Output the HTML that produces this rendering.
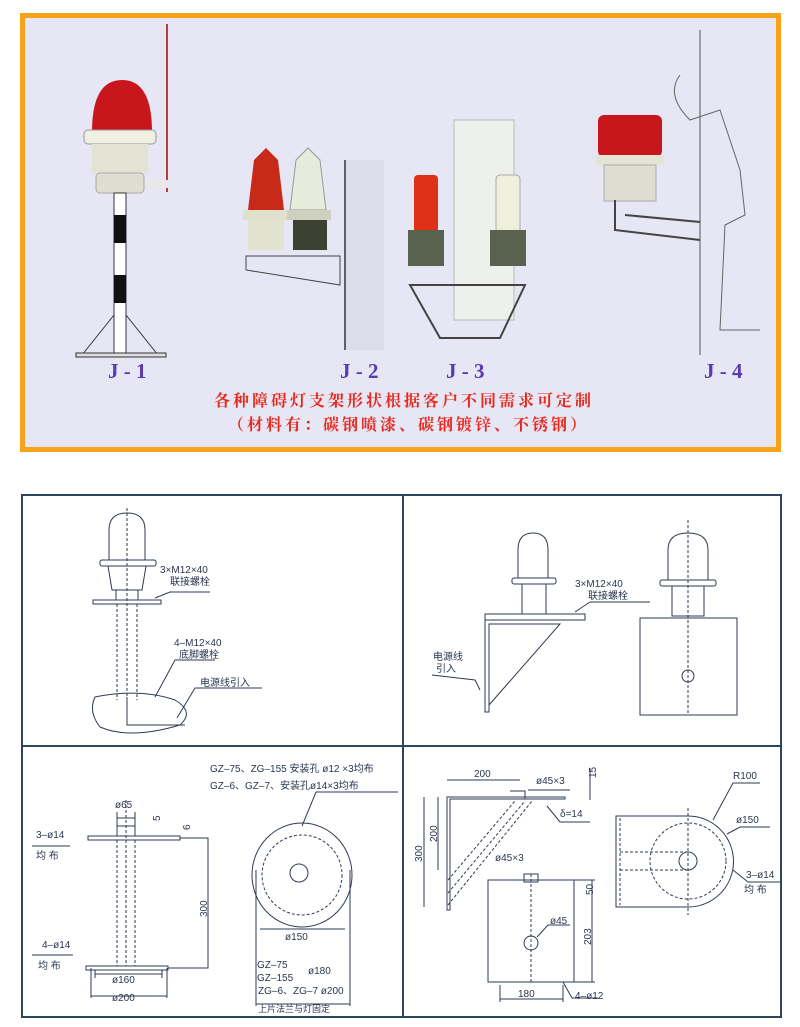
<!DOCTYPE html>
<html><head><meta charset="utf-8"><style>
html,body{margin:0;padding:0;background:#fff}
svg{display:block}
text{font-family:"Liberation Sans","Noto Sans CJK SC",sans-serif;fill:#2a3550}
.jl{font-family:"Liberation Serif",serif;font-size:21px;font-weight:bold;fill:#5a3ab0}
.cn{font-family:"Liberation Serif","Noto Serif CJK SC",serif;font-size:16px;font-weight:bold;fill:#e8281c;letter-spacing:3px}
</style></head><body>
<svg width="800" height="1027" viewBox="0 0 800 1027" xmlns="http://www.w3.org/2000/svg">
<!-- TOP PANEL -->
<rect x="22.5" y="15.5" width="756" height="434" fill="#e6e6f5" stroke="#f7a21b" stroke-width="5"/>
<!-- J-1 -->
<line x1="167" y1="24" x2="167" y2="192" stroke="#b04040" stroke-width="2"/>
<rect x="140" y="180" width="28" height="8" fill="#e8e8e8"/>
<path d="M92 132 Q92 80 122 80 Q152 80 152 132 Z" fill="#c8171c"/>
<rect x="84" y="130" width="72" height="14" rx="4" fill="#efefe2" stroke="#999"/>
<rect x="92" y="144" width="56" height="30" fill="#e3e3d3"/>
<rect x="96" y="173" width="48" height="20" rx="4" fill="#deded0" stroke="#aaa"/>
<rect x="114" y="193" width="12" height="160" fill="#fff" stroke="#333"/>
<rect x="114" y="215" width="12" height="28" fill="#111"/>
<rect x="114" y="275" width="12" height="28" fill="#111"/>
<path d="M82 355 L114 315 M158 355 L126 315" stroke="#333" fill="none"/>
<rect x="76" y="353" width="90" height="4" fill="#ddd" stroke="#333"/>
<text x="108" y="378" class="jl">J - 1</text>
<!-- J-2 -->
<path d="M248 210 L254 160 L266 148 L278 160 L284 210 Z" fill="#c82a1a"/>
<path d="M290 210 L296 160 L308 148 L320 160 L326 210 Z" fill="#e7ebdc" stroke="#999"/>
<rect x="243" y="210" width="44" height="10" fill="#e0e0cc"/><rect x="287" y="210" width="44" height="10" fill="#d0d0c0"/>
<rect x="248" y="220" width="36" height="30" fill="#e2e2d0"/><rect x="293" y="220" width="34" height="30" fill="#3b4232"/>
<path d="M246 256 L340 256 L340 285 L246 270 Z" fill="none" stroke="#444"/>
<line x1="345" y1="160" x2="345" y2="350" stroke="#333" stroke-width="1.5"/>
<rect x="346" y="160" width="38" height="190" fill="#d8d8e6" opacity=".7"/>
<text x="340" y="378" class="jl">J - 2</text>
<!-- J-3 -->
<rect x="454" y="120" width="60" height="200" fill="#eef0ec" stroke="#bbb"/>
<rect x="414" y="175" width="24" height="58" rx="4" fill="#e03018"/>
<rect x="408" y="230" width="36" height="36" fill="#58624e"/>
<rect x="496" y="175" width="24" height="58" rx="4" fill="#eef0dc" stroke="#aaa"/>
<rect x="490" y="230" width="36" height="36" fill="#58624e"/>
<path d="M410 285 L525 285 L500 338 L440 338 Z" fill="none" stroke="#444" stroke-width="2"/>
<text x="446" y="378" class="jl">J - 3</text>
<!-- J-4 -->
<line x1="700" y1="30" x2="700" y2="355" stroke="#555"/>
<path d="M680 75 Q665 95 690 120 L720 110 L740 170 L745 215 L725 225 L720 330 L760 330" fill="none" stroke="#666"/>
<rect x="598" y="115" width="64" height="42" rx="6" fill="#c8171c"/>
<rect x="596" y="155" width="68" height="10" fill="#e4e4d4"/>
<rect x="604" y="165" width="52" height="36" fill="#deded0" stroke="#aaa"/>
<path d="M615 200 L615 230 L700 240 M625 215 L700 222" fill="none" stroke="#444" stroke-width="2"/>
<text x="704" y="378" class="jl">J - 4</text>
<text x="214" y="406" class="cn">各种障碍灯支架形状根据客户不同需求可定制</text>
<text x="228" y="430" class="cn">（材料有：碳钢喷漆、碳钢镀锌、不锈钢）</text>

<!-- BOTTOM GRID -->
<g fill="none" stroke="#2c4560" stroke-width="2">
<rect x="22" y="495" width="759" height="522"/>
<line x1="403" y1="495" x2="403" y2="1017"/>
<line x1="22" y1="746" x2="781" y2="746"/>
</g>
<g fill="none" stroke="#2f3a55" stroke-width="1">
<!-- Q1 -->
<line x1="127" y1="508" x2="127" y2="700" stroke-dasharray="3,2"/>
<path d="M109 560 L109 530 Q109 513 127 513 Q145 513 145 530 L145 560"/>
<rect x="100" y="560" width="56" height="6" rx="2"/>
<path d="M108 566 L112 590 L142 590 L146 566"/>
<rect x="116" y="590" width="22" height="10"/>
<rect x="93" y="600" width="68" height="4"/>
<line x1="117" y1="604" x2="117" y2="700" stroke-dasharray="3,2"/><line x1="137" y1="604" x2="137" y2="700" stroke-dasharray="3,2"/>
<path d="M95 697 Q140 688 175 700 Q195 712 180 725 Q130 740 100 727 Q88 712 95 697 Z"/>
<path d="M127 697 L127 725 L185 725"/>
<path d="M155 598 L170 592 L210 592 M155 697 L175 660 L215 660 M177 718 L195 688 L262 688"/>
<!-- Q2 -->
<path d="M518 578 L518 550 Q518 533 533 533 Q548 533 548 550 L548 578"/>
<rect x="512" y="578" width="44" height="6" rx="2"/>
<rect x="522" y="584" width="24" height="30"/>
<rect x="485" y="614" width="100" height="6"/>
<path d="M485 620 L485 712 L489 712 L489 624 L560 624 L489 705"/>
<path d="M575 612 L590 602 L650 602 M432 675 L475 680 L480 690"/>
<path d="M668 580 L668 550 Q668 533 688 533 Q708 533 708 550 L708 580"/>
<rect x="660" y="580" width="56" height="6" rx="2"/>
<rect x="672" y="586" width="32" height="30"/>
<rect x="640" y="618" width="97" height="97"/>
<line x1="688" y1="520" x2="688" y2="715" stroke-dasharray="3,2"/>
<circle cx="688" cy="676" r="6"/>
<!-- Q3 -->
<rect x="88" y="836" width="92" height="4"/>
<rect x="117" y="826" width="18" height="10"/>
<line x1="117" y1="840" x2="117" y2="966" stroke-dasharray="3,2"/><line x1="135" y1="840" x2="135" y2="966" stroke-dasharray="3,2"/>
<line x1="126" y1="800" x2="126" y2="966" stroke-dasharray="3,2"/>
<rect x="86" y="966" width="82" height="4"/>
<path d="M180 838 L208 838 L208 968 L168 968 M117 812 L117 826 M135 812 L135 826 M117 818 L135 818"/>
<path d="M91 968 L91 998 M167 968 L167 998 M91 996 L167 996 M95 970 L95 978 M162 970 L162 978 M95 974 L162 974"/>
<path d="M32 846 L70 846 M32 955 L73 955"/>
<ellipse cx="302" cy="875" rx="50" ry="52"/>
<ellipse cx="302" cy="875" rx="40" ry="40" stroke-dasharray="3,2"/>
<circle cx="299" cy="873" r="9"/>
<path d="M260 929 L345 929 M256 870 L256 1006 M350 870 L350 1006 M256 1004 L350 1004 M302 826 L316 792 L398 792"/>
<!-- Q4 -->
<path d="M447 797 L447 910 L450 910 L450 799 L565 799 L565 797 Z"/>
<path d="M510 791 L525 791 L525 799"/>
<path d="M448 880 L515 801 M448 893 L525 801 M448 905 L532 801" stroke-dasharray="3,2"/>
<path d="M447 780 L520 780 M424 797 L424 907 M438 797 L438 870 M590 768 L590 800 M528 790 L570 790 M547 806 L560 822 L590 822"/>
<rect x="488" y="880" width="86" height="102"/>
<rect x="524" y="874" width="14" height="8"/>
<line x1="531" y1="874" x2="531" y2="982" stroke-dasharray="3,2"/>
<circle cx="531" cy="943" r="7"/>
<path d="M574 880 L595 880 M574 982 L595 982 M592 880 L592 982 M500 985 L500 1002 M563 985 L563 1002 M500 999 L563 999 M563 982 L572 998 L598 998 M537 937 L548 925 L570 925"/>
<path d="M616 816 L688 816 A45.5 45.5 0 0 1 688 907 L616 907 Z"/>
<circle cx="688" cy="861" r="38" stroke-dasharray="3,2"/>
<circle cx="688" cy="861" r="9"/>
<line x1="688" y1="808" x2="688" y2="915" stroke-dasharray="3,2"/>
<path d="M620 852 L688 852 M620 870 L688 870" stroke-dasharray="3,2"/>
<line x1="620" y1="818" x2="620" y2="905" stroke-dasharray="3,2"/>
<path d="M713 820 L733 783 L760 783 M727 834 L740 827 L770 827 M733 870 L748 882 L780 882"/>
</g>
<g font-size="10">
<text x="160" y="573">3×M12×40</text><text x="170" y="585">联接螺栓</text>
<text x="174" y="646">4–M12×40</text><text x="179" y="658">底脚螺栓</text>
<text x="200" y="686">电源线引入</text>
<text x="575" y="587">3×M12×40</text><text x="588" y="599">联接螺栓</text>
<text x="433" y="660">电源线</text><text x="436" y="672">引入</text>
<text x="210" y="772">GZ–75、ZG–155 安装孔 ø12  ×3均布</text>
<text x="210" y="789">GZ–6、GZ–7、安装孔ø14×3均布</text>
<text x="115" y="808">ø65</text>
<text x="36" y="838">3–ø14</text><text x="36" y="859">均    布</text>
<text x="42" y="948">4–ø14</text><text x="38" y="969">均     布</text>
<text x="112" y="983">ø160</text><text x="112" y="1001">ø200</text>
<text x="285" y="940">ø150</text>
<text x="257" y="968">GZ–75</text><text x="257" y="981">GZ–155</text><text x="308" y="974">ø180</text>
<text x="258" y="994">ZG–6、ZG–7 ø200</text>
<text x="258" y="1012" font-size="9">上片法兰与灯固定</text>
<text x="474" y="777">200</text><text x="536" y="784">ø45×3</text>
<text x="560" y="817">δ=14</text><text x="495" y="861">ø45×3</text>
<text x="550" y="924">ø45</text><text x="518" y="997">180</text>
<text x="575" y="999">4–ø12</text>
<text x="733" y="779">R100</text><text x="736" y="823">ø150</text>
<text x="746" y="878">3–ø14</text><text x="744" y="893">均   布</text>
<text transform="translate(160,821) rotate(-90)">5</text>
<text transform="translate(190,830) rotate(-90)">6</text>
<text transform="translate(207,917) rotate(-90)">300</text>
<text transform="translate(422,862) rotate(-90)">300</text>
<text transform="translate(437,842) rotate(-90)">200</text>
<text transform="translate(596,778) rotate(-90)">15</text>
<text transform="translate(593,895) rotate(-90)">50</text>
<text transform="translate(591,945) rotate(-90)">203</text>
</g>
</svg>
</body></html>
